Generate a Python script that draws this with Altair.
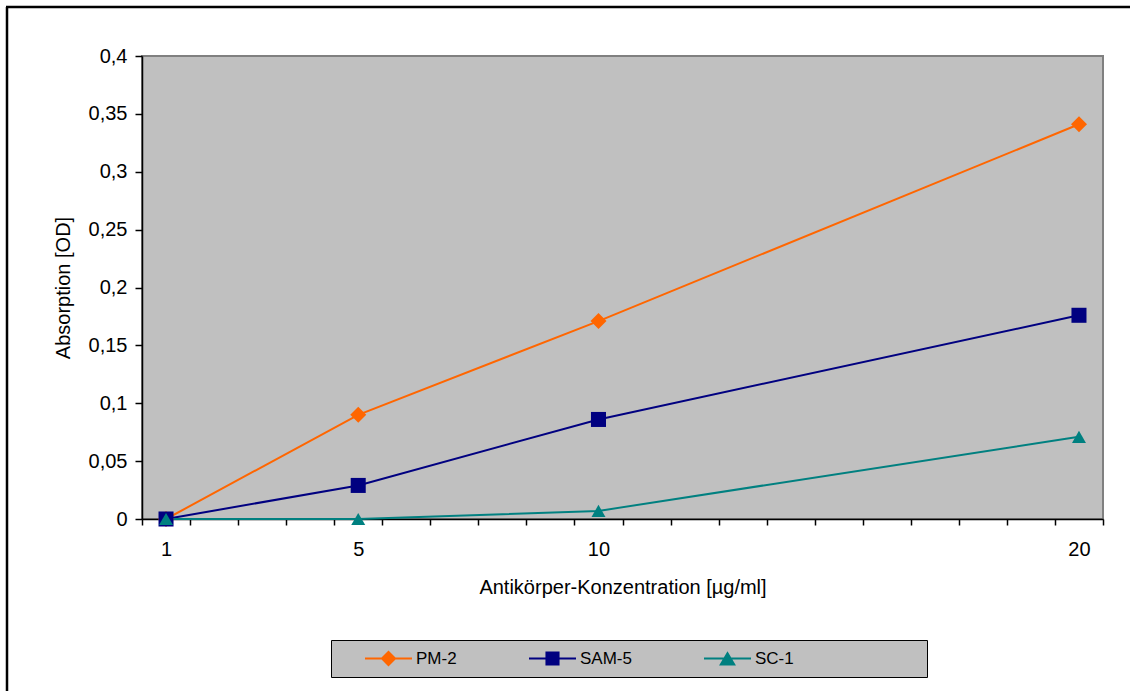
import json
import altair as alt
import pandas as pd

# ---------------- data ----------------
concentration = [1, 5, 10, 20]
series_names = ["PM-2", "SAM-5", "SC-1"]
pm2 = [0.0, 0.090, 0.171, 0.341]
sam5 = [0.0, 0.029, 0.086, 0.176]
sc1 = [0.0, 0.0, 0.007, 0.071]

colors = ["#FF6600", "#000080", "#008080"]
marker_shapes = ["diamond", "square", "triangle-up"]
marker_sizes = [256, 196, 290]
# legend symbols: short line with the marker in its middle (unit square paths)
legend_symbols = [
    "M-1,-0.045H1V0.045H-1Z M0,-0.34L0.34,0L0,0.34L-0.34,0Z",
    "M-1,-0.045H1V0.045H-1Z M-0.3,-0.3H0.3V0.3H-0.3Z",
    "M-1,-0.045H1V0.045H-1Z M0,-0.31L0.36,0.3H-0.36Z",
]

y_ticks = [0, 0.05, 0.1, 0.15, 0.2, 0.25, 0.3, 0.35, 0.4]
x_ticks = [0.5 + i for i in range(21)]
x_labels = [1, 5, 10, 20]

rows = []
for name, vals in zip(series_names, [pm2, sam5, sc1]):
    for c, v in zip(concentration, vals):
        rows.append({"Konzentration": c, "Absorption": v, "Serie": name})
df = pd.DataFrame(rows)

FONT = "Liberation Sans"
ZW = "\u200b"
EM = "\u2003"
THIN = "\u2009"

x_enc = alt.X(
    "Konzentration:Q",
    scale=alt.Scale(domain=[0.5, 20.5], nice=False, zero=False),
    axis=alt.Axis(
        values=sorted(x_ticks + x_labels),
        title="Antikörper-Konzentration [µg/ml]",
        labelExpr=f"indexof({json.dumps(x_labels)}, datum.value) >= 0 ? format(datum.value, 'd') : ''",
        tickOpacity={"condition": {"test": "datum.value % 1 == 0", "value": 0}, "value": 1},
        tickSize=6,
        tickColor="black",
        tickWidth=1.5,
        domainColor="black",
        domainWidth=1.5,
        labelPadding=14,
        labelFlush=False,
        labelOverlap=False,
        labelFont=FONT,
        labelFontSize=20,
        labelColor="black",
        grid=False,
        titleFont=FONT,
        titleFontSize=20,
        titleFontWeight="normal",
        titleColor="black",
        titleY=74,
        titleBaseline="alphabetic",
    ),
)

y_enc = alt.Y(
    "Absorption:Q",
    scale=alt.Scale(domain=[0, 0.4], nice=False),
    axis=alt.Axis(
        values=y_ticks,
        title="Absorption [OD]",
        labelExpr="replace(format(datum.value, '.2~f'), '.', ',')",
        tickSize=7,
        tickColor="black",
        tickWidth=1.5,
        domainColor="black",
        domainWidth=1.5,
        labelPadding=8,
        labelFont=FONT,
        labelFontSize=20,
        labelColor="black",
        grid=False,
        titleFont=FONT,
        titleFontSize=20,
        titleFontWeight="normal",
        titleColor="black",
        titleX=-73,
        titleBaseline="alphabetic",
    ),
)

color_plain = alt.Color("Serie:N", scale=alt.Scale(domain=series_names, range=colors), legend=None)

lines = alt.Chart(df).mark_line(strokeWidth=2).encode(
    x=x_enc, y=y_enc, color=color_plain, order="Konzentration:Q"
)

points = alt.Chart(df).mark_point(filled=True, opacity=1, strokeWidth=0).encode(
    x=x_enc,
    y=y_enc,
    color=color_plain,
    shape=alt.Shape("Serie:N", scale=alt.Scale(domain=series_names, range=marker_shapes), legend=None),
    size=alt.Size("Serie:N", scale=alt.Scale(domain=series_names, range=marker_sizes), legend=None),
)

legend_props = dict(
    title=ZW + EM + EM + ZW,
    titleOrient="left",
    titleFont=FONT,
    titleFontSize=12,
    titlePadding=0,
    orient="none",
    legendX=189,
    legendY=584,
    direction="horizontal",
    fillColor="#C0C0C0",
    strokeColor="black",
    padding=10,
    symbolSize=2209,
    symbolStrokeWidth=0,
    symbolOpacity=1,
    clipHeight=17,
    labelFont=FONT,
    labelFontSize=17,
    labelColor="black",
    labelOffset=4,
    labelLimit=400,
    columnPadding=72,
    labelExpr=f"datum.label == 'SC-1' ? 'SC-1' + '{EM * 7}{THIN}{ZW}' : datum.label",
)

legend_layer = (
    alt.Chart(df)
    .transform_filter("datum.Konzentration < 0")
    .mark_point(filled=True, opacity=1)
    .encode(
        x=x_enc,
        y=y_enc,
        color=alt.Color("Serie:N", scale=alt.Scale(domain=series_names, range=colors),
                        legend=alt.Legend(**legend_props)),
        shape=alt.Shape("Serie:N", scale=alt.Scale(domain=series_names, range=legend_symbols),
                        legend=alt.Legend(**legend_props)),
    )
)

one = pd.DataFrame({"k": [0]})
frame_v = alt.Chart(one).mark_rule(color="black", strokeWidth=2.5).encode(
    x=alt.value(-135), y=alt.value(-49), y2=alt.value(635)
)
frame_h = alt.Chart(one).mark_rule(color="black", strokeWidth=2.5).encode(
    x=alt.value(-136), x2=alt.value(988), y=alt.value(-49)
)

chart = (
    alt.layer(lines, points, legend_layer, frame_v, frame_h)
    .resolve_scale(color="independent", shape="independent", size="independent")
    .properties(
        width=961,
        height=463,
        autosize=alt.AutoSizeParams(type="none"),
        padding={"left": 142, "top": 56, "right": 27, "bottom": 172},
        background="white",
    )
    .configure_view(fill="#C0C0C0", stroke="#808080", strokeWidth=2)
)

chart.save("out.html", embed_options={"renderer": "svg", "actions": False})
